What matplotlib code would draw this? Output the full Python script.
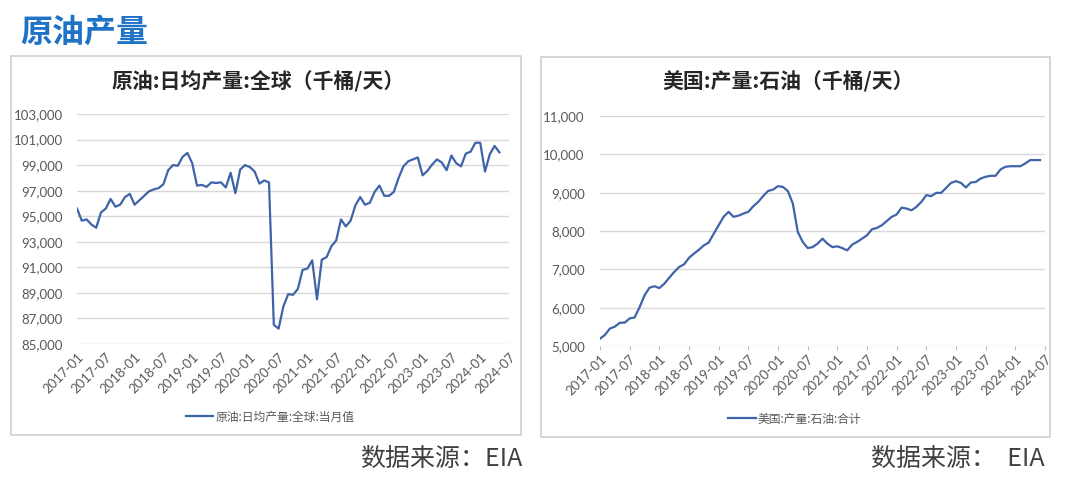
import numpy as np
import matplotlib
matplotlib.use("Agg")
import matplotlib.pyplot as plt
from matplotlib.patches import Rectangle

plt.rcParams['font.family'] = ['Noto Sans CJK SC', 'DejaVu Sans']

W, H = 1080, 483

# monthly data, 2017-01 onwards
world_oil = [95600, 94650, 94750, 94350, 94100, 95300, 95600, 96350, 95750, 95900,
             96500, 96750, 95900, 96250, 96600, 96950, 97100, 97200, 97500, 98600,
             99000, 98950, 99650, 99950, 99150, 97400, 97450, 97300, 97650, 97600,
             97650, 97250, 98400, 96800, 98650, 99000, 98850, 98500, 97550, 97800,
             97650, 86500, 86200, 87950, 88900, 88850, 89300, 90800, 90900, 91550,
             88500, 91600, 91800, 92650, 93100, 94750, 94200, 94650, 95850, 96500,
             95900, 96050, 96900, 97400, 96600, 96600, 96900, 98000, 98900, 99300,
             99450, 99600, 98200, 98550, 99050, 99450, 99200, 98600, 99750, 99150,
             98900, 99900, 100050, 100750, 100750, 98500, 99850, 100500, 100000]

us_oil = [5190, 5290, 5455, 5505, 5605, 5610, 5720, 5745, 6010, 6320,
          6520, 6560, 6510, 6625, 6780, 6930, 7060, 7130, 7300, 7410,
          7510, 7625, 7700, 7930, 8150, 8370, 8500, 8370, 8400, 8455,
          8500, 8645, 8760, 8910, 9045, 9080, 9170, 9150, 9040, 8715,
          7975, 7715, 7555, 7580, 7670, 7800, 7670, 7580, 7600, 7555,
          7495, 7645, 7715, 7800, 7890, 8045, 8080, 8150, 8260, 8370,
          8430, 8610, 8585, 8540, 8630, 8760, 8935, 8910, 8995, 8995,
          9125, 9255, 9300, 9255, 9135, 9265, 9280, 9370, 9415, 9440,
          9440, 9605, 9675, 9690, 9690, 9690, 9760, 9850, 9850, 9850]

tick_labels = ['2017-01', '2017-07', '2018-01', '2018-07', '2019-01', '2019-07',
               '2020-01', '2020-07', '2021-01', '2021-07', '2022-01', '2022-07',
               '2023-01', '2023-07', '2024-01', '2024-07']

line_color = '#3F63A8'
grid_color = '#D9D9D9'
text_color = '#595959'

fig = plt.figure(figsize=(W / 100, H / 100), dpi=100)


def box(x0, y0, x1, y1):
    return [x0 / W, 1 - y1 / H, (x1 - x0) / W, (y1 - y0) / H]


# panel frames
for x0, y0, x1, y1 in [(11, 56, 521, 435), (541, 57, 1050, 437)]:
    fig.patches.append(Rectangle((x0 / W, 1 - y1 / H), (x1 - x0) / W, (y1 - y0) / H,
                                 transform=fig.transFigure, fill=False,
                                 edgecolor='#D0D0D0', linewidth=1.2))

fig.text(20 / W, 1 - 33 / H, '原油产量', fontsize=23, fontweight='bold',
         color='#1F73C6', va='center', ha='left')


def panel(rect, data, ylim, step, title, tx, legend_label, lx, ly, src, sx, ticks_marks, ypad):
    ax = fig.add_axes(box(*rect))
    x = np.arange(len(data))
    ax.plot(x, data, color=line_color, linewidth=1.6, label=legend_label)
    ax.set_xlim(0, 90)
    ax.set_ylim(*ylim)
    ax.set_yticks(np.arange(ylim[0], ylim[1] + 1, step))
    ax.yaxis.set_major_formatter(matplotlib.ticker.FuncFormatter(lambda v, p: f'{int(v):,}'))
    ax.set_xticks(np.arange(0, 91, 6))
    ax.set_xticklabels(tick_labels, rotation=45, ha='right', rotation_mode='anchor')
    ax.grid(axis='y', color=grid_color, linewidth=1)
    ax.set_axisbelow(True)
    for s in ax.spines.values():
        s.set_visible(False)
    ax.tick_params(axis='y', length=0, pad=ypad, labelsize=9.5, labelcolor=text_color)
    if ticks_marks:
        ax.tick_params(axis='x', length=3, color='#BFBFBF', pad=2, labelsize=9.5, labelcolor=text_color)
    else:
        ax.tick_params(axis='x', length=0, pad=5, labelsize=9.5, labelcolor=text_color)
    for lab in ax.get_xticklabels() + ax.get_yticklabels():
        lab.set_family(['Lato', 'DejaVu Sans'])
    fig.text(tx / W, 1 - 82 / H, title, fontsize=15, fontweight='bold',
             color='#262626', ha='center', va='center')
    ax.legend(loc='center', bbox_to_anchor=(lx / W, 1 - ly / H), bbox_transform=fig.transFigure,
              frameon=False, fontsize=8.5, handlelength=2.3, handletextpad=0.2,
              labelcolor=text_color)
    fig.text(sx / W, 1 - 459 / H, src, fontsize=18, color='#404040', ha='right', va='center')
    return ax


panel((77, 114, 509, 344), world_oil, (85000, 103000), 2000,
      '原油:日均产量:全球（千桶/天）', 258, '原油:日均产量:全球:当月值', 270, 417,
      '数据来源：EIA', 522, False, 10)
panel((600, 116, 1045, 346), us_oil, (5000, 11000), 1000,
      '美国:产量:石油（千桶/天）', 788, '美国:产量:石油:合计', 795, 419,
      '数据来源：  EIA', 1045, True, 11)

fig.savefig('out.png', dpi=100)
